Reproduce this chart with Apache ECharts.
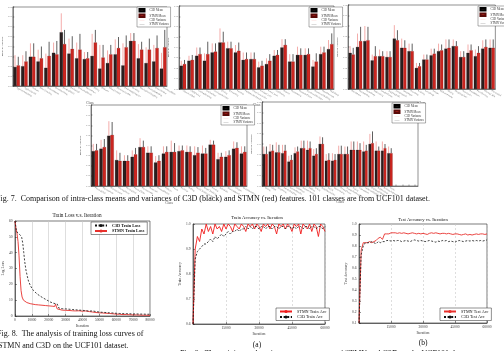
<!DOCTYPE html>
<html>
<head>
<meta charset="utf-8">
<script src="https://cdn.jsdelivr.net/npm/echarts@6/dist/echarts.min.js"></script>
<style>
html,body{margin:0;padding:0;background:#fff;}
#main{width:504px;height:351px;}
</style>
</head>
<body>
<div id="main"></div>
<script>
// UCF101 classes, split over the five bar panels
var classes1 = ['ApplyEyeMakeup','ApplyLipstick','Archery','BabyCrawling','BalanceBeam','BandMarching','BaseballPitch','Basketball','BasketballDunk','BenchPress','Biking','Billiards','BlowDryHair','BlowingCandles','BodyWeightSquats','Bowling','BoxingPunchingBag','BoxingSpeedBag','BreastStroke','BrushingTeeth'];
var classes2 = ['CleanAndJerk','CliffDiving','CricketBowling','CricketShot','CuttingInKitchen','Diving','Drumming','Fencing','FieldHockeyPenalty','FloorGymnastics','FrisbeeCatch','FrontCrawl','GolfSwing','Haircut','Hammering','HammerThrow','HandstandPushups','HandstandWalking','HeadMassage','HighJump'];
var classes3 = ['HorseRace','HorseRiding','HulaHoop','IceDancing','JavelinThrow','JugglingBalls','JumpingJack','JumpRope','Kayaking','Knitting','LongJump','Lunges','MilitaryParade','Mixing','MoppingFloor','Nunchucks','ParallelBars','PizzaTossing','PlayingCello','PlayingDaf'];
var classes4 = ['PlayingDhol','PlayingFlute','PlayingGuitar','PlayingPiano','PlayingSitar','PlayingTabla','PlayingViolin','PoleVault','PommelHorse','PullUps','Punch','PushUps','Rafting','RockClimbingIndoor','RopeClimbing','Rowing','SalsaSpin','ShavingBeard','Shotput','SkateBoarding'];
var classes5 = ['Skiing','Skijet','SkyDiving','SoccerJuggling','SoccerPenalty','StillRings','SumoWrestling','Surfing','Swing','TableTennisShot','TaiChi','TennisSwing','ThrowDiscus','TrampolineJumping','Typing','UnevenBars','VolleyballSpiking','WalkingWithDog','WallPushups','WritingOnBoard','YoYo','','','',''];

// intra-class means / variances (C3D black, STMN red)
var c3dMean1 = [0.24,0.25,0.37,0.31,0.23,0.42,0.68,0.41,0.35,0.34,0.38,0.22,0.29,0.40,0.26,0.57,0.35,0.29,0.31,0.22];
var stmnMean1 = [0.26,0.31,0.37,0.35,0.38,0.40,0.53,0.47,0.46,0.35,0.55,0.36,0.40,0.48,0.49,0.57,0.46,0.46,0.48,0.49];
var c3dVar1 = [0.15,0.14,0.17,0.15,0.18,0.13,0.24,0.19,0.20,0.09,0.28,0.30,0.16,0.19,0.28,0.10,0.18,0.20,0.21,0.20];
var stmnVar1 = [0.11,0.13,0.17,0.15,0.18,0.17,0.18,0.16,0.20,0.08,0.16,0.16,0.12,0.14,0.15,0.10,0.10,0.14,0.16,0.22];

var c3dMean2 = [0.28,0.34,0.40,0.34,0.44,0.56,0.49,0.44,0.35,0.36,0.26,0.30,0.40,0.50,0.33,0.41,0.41,0.27,0.42,0.48];
var stmnMean2 = [0.30,0.35,0.42,0.42,0.45,0.56,0.49,0.46,0.36,0.36,0.28,0.34,0.41,0.53,0.33,0.41,0.42,0.33,0.44,0.54];
var c3dVar2 = [0.06,0.06,0.10,0.09,0.11,0.17,0.08,0.09,0.09,0.08,0.07,0.07,0.07,0.10,0.09,0.10,0.08,0.08,0.09,0.11];
var stmnVar2 = [0.05,0.06,0.08,0.15,0.10,0.13,0.08,0.10,0.08,0.08,0.06,0.08,0.06,0.07,0.09,0.08,0.07,0.10,0.07,0.13];

var c3dMean3 = [0.43,0.50,0.57,0.34,0.39,0.38,0.60,0.49,0.45,0.25,0.35,0.40,0.45,0.48,0.51,0.38,0.43,0.39,0.48,0.49];
var stmnMean3 = [0.41,0.57,0.58,0.39,0.39,0.38,0.58,0.49,0.45,0.27,0.35,0.42,0.46,0.49,0.51,0.38,0.46,0.43,0.50,0.49];
var c3dVar3 = [0.08,0.16,0.18,0.07,0.08,0.07,0.16,0.11,0.09,0.06,0.06,0.08,0.09,0.11,0.08,0.07,0.10,0.08,0.10,0.10];
var stmnVar3 = [0.08,0.17,0.16,0.12,0.06,0.07,0.12,0.09,0.09,0.04,0.06,0.06,0.07,0.10,0.06,0.07,0.07,0.08,0.09,0.10];

var c3dMean4 = [0.43,0.46,0.62,0.32,0.31,0.36,0.48,0.41,0.29,0.40,0.42,0.43,0.42,0.38,0.40,0.51,0.33,0.36,0.46,0.40];
var stmnMean4 = [0.44,0.48,0.63,0.31,0.31,0.39,0.48,0.41,0.31,0.42,0.42,0.44,0.42,0.41,0.40,0.51,0.36,0.38,0.47,0.42];
var c3dVar4 = [0.09,0.11,0.18,0.12,0.07,0.08,0.11,0.08,0.08,0.09,0.14,0.07,0.08,0.11,0.10,0.06,0.08,0.07,0.09,0.09];
var stmnVar4 = [0.08,0.10,0.16,0.10,0.07,0.08,0.08,0.08,0.07,0.07,0.11,0.06,0.07,0.07,0.07,0.05,0.05,0.06,0.07,0.07];

var c3dMean5 = [0.38,0.41,0.40,0.39,0.29,0.39,0.45,0.43,0.36,0.50,0.30,0.30,0.38,0.38,0.43,0.43,0.41,0.50,0.42,0.42,0.39];
var stmnMean5 = [0.38,0.42,0.40,0.42,0.31,0.41,0.45,0.45,0.38,0.50,0.31,0.31,0.38,0.38,0.43,0.43,0.42,0.51,0.42,0.45,0.39];
var c3dVar5 = [0.09,0.09,0.12,0.10,0.07,0.07,0.09,0.11,0.08,0.09,0.08,0.09,0.10,0.09,0.10,0.10,0.12,0.12,0.11,0.11,0.08];
var stmnVar5 = [0.09,0.07,0.09,0.07,0.06,0.06,0.09,0.08,0.07,0.08,0.08,0.07,0.10,0.09,0.10,0.08,0.07,0.14,0.05,0.05,0.06];

// Fig. 8 training loss
var lossIterC3D = [0,800,1600,2400,3200,4000,4600,5200,5800,6500,7200,8000,9000,10000,11000,12000,13000,14000,15000,16000,17000,18000,19000,20000,21000,22000,23000,24000,25000,25500,26000,27000,28000,30000,32000,34000,36000,38000,40000,42000,44000,46000,48000,50000,52000,54000,56000,58000,60000,62000,64000,66000,68000,70000,72000,74000,76000,78000,80000];
var lossC3D = [60,54,52.5,51.5,51,49.5,46,40,34,29,25.5,22,19.5,17.5,16,15,14,13,12.5,12,11.2,10.5,10,9.2,8.8,8.3,8,7.8,7.6,6.5,5,4.8,4.6,4.5,4.3,4.1,3.9,3.7,3.6,3.3,3.1,3.2,2.8,2.5,2.3,2.2,2,1.9,1.7,1.6,1.5,1.5,1.4,1.3,1.3,1.2,1.2,1.1,1.1];
var lossIterSTMN = [0,600,1200,1800,2400,3000,3600,4200,5000,6000,7000,8000,9000,10000,12000,14000,16000,18000,20000,22000,23500,24000,24500,25000,26000,28000,30000,32000,34000,36000,38000,40000,42000,44000,46000,48000,50000,52000,54000,56000,58000,60000,62000,64000,66000,68000,70000,72000,74000,76000,78000,80000];
var lossSTMN = [60,55,52,47,38,25,16,12,10,9,8.5,8,7.8,7.5,7.2,7,6.8,6.6,6.4,6.2,6,7.5,7,4.5,3.8,3.7,3.6,3.5,3.3,3.2,3.3,3,3.2,2.8,2.5,2.2,2,1.9,1.7,1.6,1.4,1.2,1.1,0.9,0.9,0.8,0.7,0.7,0.6,0.5,0.5,0.4];

// Fig. 9 accuracy curves
var accIter = [0,1000,2000,3000,4000,5000,6000,7000,8000,9000,10000,11000,12000,13000,14000,15000,16000,17000,18000,19000,20000,21000,22000,23000,24000,25000,26000,27000,28000,29000,30000,31000,32000,33000,34000,35000,36000,37000,38000,39000,40000,41000,42000,43000,44000,45000,46000,47000,48000,49000,50000,51000,52000,53000,54000,55000,56000,57000,58000,59000,60000];
var trainAccSTMN = [0.60,0.90,0.95,0.93,0.98,0.96,1.00,0.97,0.99,0.96,1.00,0.98,0.99,0.97,1.00,0.98,1.00,0.99,0.97,1.00,0.99,0.98,1.00,0.99,0.97,1.00,0.99,1.00,0.98,1.00,0.99,0.97,1.00,0.99,1.00,0.98,1.00,0.99,0.96,1.00,0.99,1.00,0.98,1.00,0.99,0.97,1.00,0.99,1.00,0.96,1.00,0.99,0.98,1.00,0.97,1.00,0.99,0.95,1.00,0.99,0.97];
var trainAccC3D = [0.60,0.86,0.89,0.90,0.91,0.92,0.92,0.93,0.94,0.93,0.95,0.94,0.95,0.96,0.95,0.96,0.97,0.96,0.97,0.97,0.98,0.97,0.98,0.98,0.99,0.98,0.99,0.98,0.99,0.99,0.98,0.99,0.99,0.98,0.99,0.99,0.98,0.99,0.99,0.98,0.99,0.99,0.98,0.99,0.99,0.98,0.99,0.98,0.99,0.99,0.98,0.99,0.99,0.98,0.99,0.99,0.98,0.99,0.99,0.98,0.99];
var testAccSTMN = [0.10,0.76,0.83,0.83,0.83,0.84,0.83,0.84,0.85,0.87,0.88,0.86,0.91,0.91,0.91,0.92,0.92,0.92,0.915,0.92,0.915,0.92,0.915,0.91,0.915,0.92,0.915,0.91,0.915,0.91,0.915,0.91,0.905,0.915,0.92,0.915,0.92,0.915,0.91,0.915,0.915,0.91,0.915,0.91,0.905,0.91,0.91,0.905,0.90,0.905,0.91,0.90,0.905,0.90,0.905,0.91,0.905,0.91,0.91,0.905,0.91];
var testAccC3D = [0.10,0.72,0.80,0.83,0.83,0.83,0.84,0.83,0.82,0.84,0.83,0.84,0.84,0.85,0.85,0.845,0.85,0.845,0.85,0.85,0.84,0.845,0.85,0.845,0.84,0.85,0.855,0.85,0.845,0.85,0.845,0.84,0.845,0.85,0.845,0.84,0.835,0.845,0.84,0.85,0.845,0.85,0.84,0.845,0.84,0.835,0.845,0.85,0.845,0.84,0.845,0.85,0.845,0.85,0.845,0.85,0.845,0.85,0.845,0.85,0.855];

var serif = '"Liberation Serif", "DejaVu Serif", serif';
var BLACK = '#2b1e1e', RED = '#cc2620', PINK = '#f3a3a0', GREY = '#4d4d4d';

function zip(xs, ys) {
	return xs.map(function (x, i) { return [x, ys[i]]; });
}

// error line above one of the two bars in a group
function errBar(shift) {
	return function (params, api) {
		var x = api.value(0), m = api.value(1), v = api.value(2);
		var p0 = api.coord([x, m]);
		var p1 = api.coord([x, m + v]);
		var dx = shift * api.size([1, 0])[0] * 0.21;
		return {
			type: 'line',
			shape: { x1: p0[0] + dx, y1: p0[1], x2: p1[0] + dx, y2: p1[1] },
			style: { stroke: api.visual('color'), lineWidth: 0.9 }
		};
	};
}

var panels = [
	{ cls: classes1, cm: c3dMean1, sm: stmnMean1, cv: c3dVar1, sv: stmnVar1, grid: [8, 7, 159, 79], leg: [137, 7] },
	{ cls: classes2, cm: c3dMean2, sm: stmnMean2, cv: c3dVar2, sv: stmnVar2, grid: [179, 6, 155, 83], leg: [309, 7] },
	{ cls: classes3, cm: c3dMean3, sm: stmnMean3, cv: c3dVar3, sv: stmnVar3, grid: [348, 5, 155, 84], leg: [478, 6] },
	{ cls: classes4, cm: c3dMean4, sm: stmnMean4, cv: c3dVar4, sv: stmnVar4, grid: [91, 105, 156, 81], leg: [221, 105] },
	{ cls: classes5, cm: c3dMean5, sm: stmnMean5, cv: c3dVar5, sv: stmnVar5, grid: [262, 102, 156, 84], leg: [392, 103] }
];

var grids = [], xAxes = [], yAxes = [], series = [], legends = [];

panels.forEach(function (p, i) {
	grids.push({ left: p.grid[0], top: p.grid[1], width: p.grid[2], height: p.grid[3], show: true, borderColor: '#222', borderWidth: 0.5 });
	xAxes.push({
		type: 'category', gridIndex: i, data: p.cls, name: 'Class', nameLocation: 'middle', nameGap: 10,
		nameTextStyle: { fontSize: 3.5, fontFamily: serif, color: '#555' },
		axisLine: { lineStyle: { color: '#222', width: 0.5 } },
		axisTick: { show: true, inside: true, length: 1.5, alignWithLabel: true, lineStyle: { color: '#222', width: 0.4 } },
		axisLabel: { rotate: -30, fontSize: 2.4, margin: 1.5, color: '#777', fontFamily: serif, interval: 0 }
	});
	yAxes.push({
		type: 'value', gridIndex: i, min: 0, max: 1, interval: 0.125, name: 'Mean & Variance', nameLocation: 'middle', nameGap: 5,
		nameTextStyle: { fontSize: 2.8, fontFamily: serif, color: '#555' },
		axisLine: { show: true, lineStyle: { color: '#222', width: 0.5 } },
		axisTick: { show: true, inside: true, length: 1.5, lineStyle: { color: '#222', width: 0.4 } },
		axisLabel: { fontSize: 2, margin: 1, color: '#888', formatter: function (v) { return (v * 0.08).toFixed(2); } },
		splitLine: { show: false }
	});
	series.push({ type: 'bar', name: 'C3D Mean', xAxisIndex: i, yAxisIndex: i, data: p.cm, barGap: '0%', barCategoryGap: '16%', itemStyle: { color: BLACK, borderColor: '#000', borderWidth: 0.2 } });
	series.push({ type: 'bar', name: 'STMN Mean', xAxisIndex: i, yAxisIndex: i, data: p.sm, barGap: '0%', barCategoryGap: '16%', itemStyle: { color: RED, borderColor: '#5a0a08', borderWidth: 0.2 } });
	series.push({ type: 'custom', name: 'C3D Variance', xAxisIndex: i, yAxisIndex: i, renderItem: errBar(-1), itemStyle: { color: PINK },
		encode: { x: 0, y: 1 }, data: p.cm.map(function (m, j) { return [j, m, p.cv[j]]; }) });
	series.push({ type: 'custom', name: 'STMN Variance', xAxisIndex: i, yAxisIndex: i, renderItem: errBar(1), itemStyle: { color: GREY },
		encode: { x: 0, y: 1 }, data: p.sm.map(function (m, j) { return [j, m, p.sv[j]]; }) });
	legends.push({
		left: p.leg[0], top: p.leg[1], orient: 'vertical', itemWidth: 5, itemHeight: 2.5, itemGap: 1, padding: [1, 1.5],
		backgroundColor: '#fff', borderColor: '#333', borderWidth: 0.4, selectedMode: false,
		textStyle: { fontSize: 3, fontFamily: serif, color: '#333' },
		data: [
			{ name: 'C3D Mean', icon: 'rect' },
			{ name: 'STMN Mean', icon: 'rect' },
			{ name: 'C3D Variance', icon: 'path://M0,4.6H20V5.4H0Z' },
			{ name: 'STMN Variance', icon: 'path://M0,4.6H20V5.4H0Z' }
		]
	});
});

// line panels: train loss, train accuracy, test accuracy
var lineGrids = [
	{ left: 9, top: 221, width: 141, height: 95 },
	{ left: 193, top: 224, width: 132, height: 100 },
	{ left: 359, top: 224, width: 128, height: 99 }
];
lineGrids.forEach(function (g) {
	grids.push({ left: g.left, top: g.top, width: g.width, height: g.height, show: true, borderColor: '#222', borderWidth: 0.6 });
});

function lineX(idx, max, interval, hideZero, dashed) {
	return {
		type: 'value', gridIndex: idx, min: 0, max: max, interval: interval, name: 'Iteration', nameLocation: 'middle', nameGap: 8,
		nameTextStyle: { fontSize: 3.8, fontFamily: serif, color: '#333' },
		axisLine: { lineStyle: { color: '#222', width: 0.6 } },
		axisTick: { inside: true, length: 2, lineStyle: { color: '#222', width: 0.5 } },
		axisLabel: { margin: 2.5, fontSize: 3.6, fontFamily: serif, color: '#333', formatter: function (v) { return hideZero && v === 0 ? '' : String(v); } },
		splitLine: { show: true, lineStyle: { color: '#c8c8c8', width: 0.6, type: dashed ? [2, 2] : 'solid' } }
	};
}
function lineY(idx, min, max, interval, name, gap, digits) {
	return {
		type: 'value', gridIndex: idx, min: min, max: max, interval: interval, name: name, nameLocation: 'middle', nameGap: gap,
		nameTextStyle: { fontSize: 3.8, fontFamily: serif, color: '#333' },
		axisLine: { show: true, lineStyle: { color: '#222', width: 0.6 } },
		axisTick: { show: true, inside: true, length: 2, lineStyle: { color: '#222', width: 0.5 } },
		axisLabel: { margin: 2.5, fontSize: 3.6, fontFamily: serif, color: '#333', formatter: function (v) { return v.toFixed(digits); } },
		splitLine: { show: false }
	};
}
xAxes.push(lineX(5, 80000, 10000, false, false));
xAxes.push(lineX(6, 60000, 15000, true, true));
xAxes.push(lineX(7, 60000, 15000, true, true));
yAxes.push(lineY(5, 0, 60, 10, 'Log Loss', 6, 0));
yAxes.push(lineY(6, 0.6, 1.0, 0.1, 'Train Accuracy', 11, 1));
yAxes.push(lineY(7, 0.1, 1.0, 0.1, 'Test Accuracy', 11, 1));

function lineSeries(name, idx, data, color, dashed, width) {
	return {
		type: 'line', name: name, xAxisIndex: idx, yAxisIndex: idx, data: data, symbol: 'none', animation: false,
		lineStyle: { color: color, width: width, type: dashed ? [2, 1.6] : 'solid' }, itemStyle: { color: color }
	};
}
series.push(lineSeries('STMN Train Loss', 5, zip(lossIterSTMN, lossSTMN), '#e8302c', false, 0.9));
series.push(lineSeries('C3D Train Loss', 5, zip(lossIterC3D, lossC3D), '#111', true, 0.8));
series.push(lineSeries('STMN Train Acc', 6, zip(accIter, trainAccSTMN), '#f01c1c', false, 0.9));
series.push(lineSeries('C3D Train Acc', 6, zip(accIter, trainAccC3D), '#111', true, 0.8));
series.push(lineSeries('STMN Test Acc', 7, zip(accIter, testAccSTMN), '#e8302c', false, 0.9));
series.push(lineSeries('C3D Test Acc', 7, zip(accIter, testAccC3D), '#111', true, 0.8));

function lineLegend(left, top, names, bold) {
	return {
		left: left, top: top, orient: 'vertical', itemWidth: 12, itemHeight: 4, itemGap: 1.5, padding: [1.5, 3],
		backgroundColor: '#fff', borderColor: '#222', borderWidth: 0.5, selectedMode: false,
		textStyle: { fontSize: 4.2, fontFamily: serif, color: '#111', fontWeight: bold ? 'bold' : 'normal' },
		data: names
	};
}
legends.push(lineLegend(91, 222, ['C3D Train Loss', 'STMN Train Loss'], true));
legends.push(lineLegend(276, 308, ['STMN Train Acc', 'C3D Train Acc'], false));
legends.push(lineLegend(440, 308, ['STMN Test Acc', 'C3D Test Acc'], false));

function txt(s, x, y, size, align) {
	return { type: 'text', x: x, y: y, silent: true,
		style: { text: s, font: size + 'px ' + serif, fill: '#111', textAlign: align || 'left', textVerticalAlign: 'middle' } };
}

var option = {
	animation: false,
	grid: grids,
	xAxis: xAxes,
	yAxis: yAxes,
	legend: legends,
	series: series,
	graphic: [
		txt('Fig. 7.  Comparison of intra-class means and variances of C3D (black) and STMN (red) features. 101 classes are from UCF101 dataset.', -4, 199, 8),
		txt('Train Loss v.s. Iteration', 77, 216, 5.2, 'center'),
		txt('Train Accuracy vs. Iteration', 257, 218, 4.6, 'center'),
		txt('Test Accuracy vs. Iteration', 423, 220, 4.6, 'center'),
		txt('Fig. 8.  The analysis of training loss curves of', -3, 334, 8),
		txt('STMN and C3D on the UCF101 dataset.', -2, 346, 8),
		txt('(a)', 257, 345, 7.5, 'center'),
		txt('(b)', 423, 343, 7.5, 'center'),
		txt('Fig. 9.  The training and testing accuracy curves of STMN and C3D on the UCF101 dataset.', 180, 354, 8)
	]
};

var myChart = echarts.init(document.getElementById('main'), null, { renderer: 'canvas' });
myChart.setOption(option);
</script>
</body>
</html>
